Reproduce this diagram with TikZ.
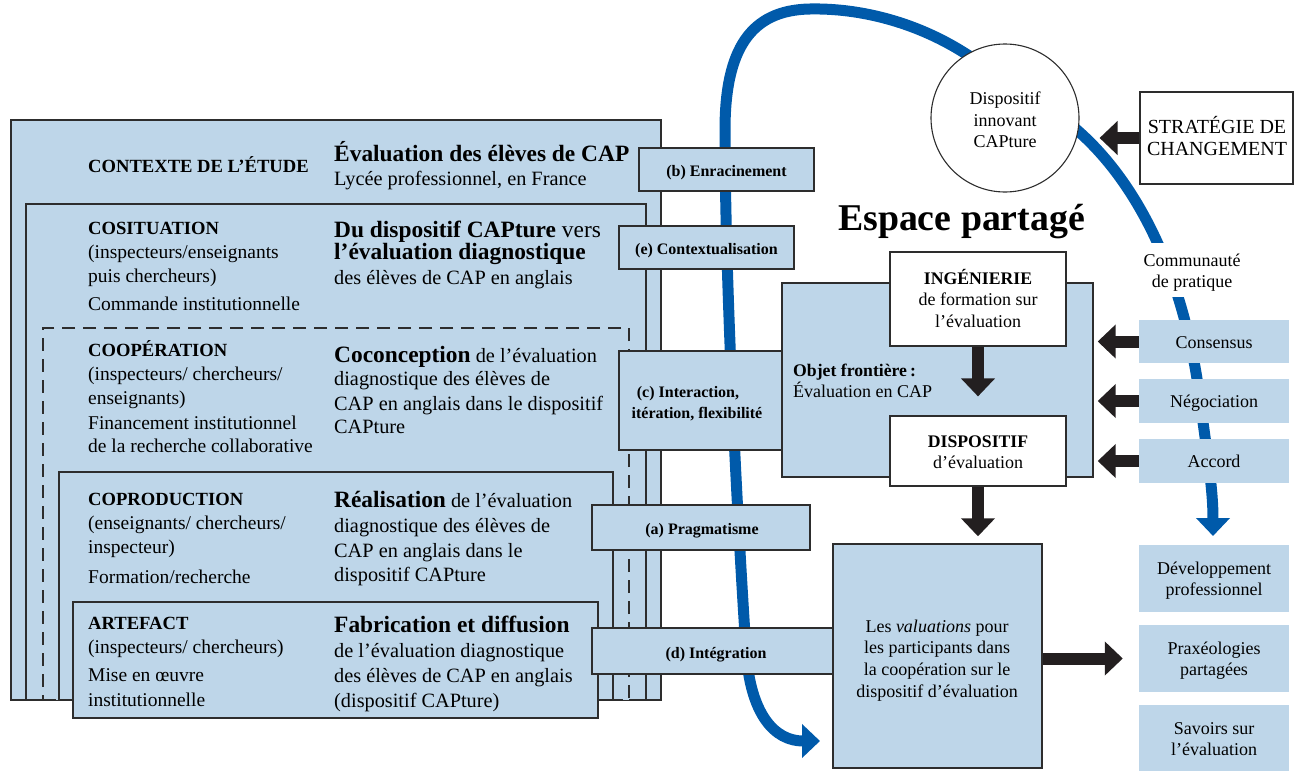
\documentclass[tikz,border=0pt]{standalone}
\usepackage{fontspec}
\setmainfont{Liberation Serif}
\usetikzlibrary{arrows.meta,fit}
\definecolor{lblue}{RGB}{190,214,233}
\definecolor{cblue}{RGB}{0,90,170}
\definecolor{darkarr}{RGB}{35,31,32}
\definecolor{edgecol}{RGB}{45,45,45}
\newcommand\fLab{\bfseries\fontsize{18.6}{22}\selectfont}
\newcommand\fBodyL{\fontsize{19.5}{23}\selectfont}
\newcommand\fTitle{\bfseries\fontsize{23.4}{27}\selectfont}
\newcommand\fBodyR{\fontsize{20.3}{24}\selectfont}
\newcommand\fMid{\bfseries\fontsize{16}{19}\selectfont}
\newcommand\fRt{\fontsize{18}{21}\selectfont}
\newcommand\fRtB{\bfseries\fontsize{17.7}{21}\selectfont}
\begin{document}
\begin{tikzpicture}[x=1pt,y=-1pt,
  every node/.style={inner sep=0pt},
  lbox/.style={draw=edgecol,line width=1.4pt,fill=lblue,inner sep=0pt},
  dbox/.style={draw=edgecol,line width=1.3pt,fill=lblue,inner sep=0pt,dash pattern=on 13pt off 8pt},
  wbox/.style={draw=edgecol,line width=1.2pt,fill=white,inner sep=0pt},
  fbox/.style={fill=lblue,inner sep=0pt},
  txt/.style={anchor=base west,inner sep=0pt},
  ctxt/.style={anchor=base,inner sep=0pt},
  curve/.style={draw=cblue,line width=11pt,-{Triangle[length=18pt,width=33pt]}},
  bigarrow/.style={draw=darkarr,line width=12pt,-{Triangle[length=18pt,width=33pt]}}]
\useasboundingbox (0,0) rectangle (1294,771);

% nested boxes
\node[lbox,fit={(11,120) (661,700)}] (b1) {};
\node[lbox,fit={(26,204) (646,700)}] (b2) {};
\node[dbox,fit={(43,328) (629,700)}] (b3) {};
\node[lbox,fit={(59,472) (613,700)}] (b4) {};
\node[lbox,fit={(73,602) (598,718)}] (b5) {};

% left column
\node[txt,font=\fLab] (l1) at (88,172) {CONTEXTE DE L’ÉTUDE};
\node[txt,font=\fLab] (l2) at (88,234) {COSITUATION};
\node[txt,font=\fBodyL] (l2a) at (88,258) {(inspecteurs/enseignants};
\node[txt,font=\fBodyL] (l2b) at (88,282) {puis chercheurs)};
\node[txt,font=\fBodyL] (l2c) at (88,310) {Commande institutionnelle};
\node[txt,font=\fLab] (l3) at (88,356) {COOPÉRATION};
\node[txt,font=\fBodyL] (l3a) at (88,380) {(inspecteurs/ chercheurs/};
\node[txt,font=\fBodyL] (l3b) at (88,404) {enseignants)};
\node[txt,font=\fBodyL] (l3c) at (88,429) {Financement institutionnel};
\node[txt,font=\fBodyL] (l3d) at (88,452) {de la recherche collaborative};
\node[txt,font=\fLab] (l4) at (88,505) {COPRODUCTION};
\node[txt,font=\fBodyL] (l4a) at (88,529) {(enseignants/ chercheurs/};
\node[txt,font=\fBodyL] (l4b) at (88,553) {inspecteur)};
\node[txt,font=\fBodyL] (l4c) at (88,583) {Formation/recherche};
\node[txt,font=\fLab] (l5) at (88,629) {ARTEFACT};
\node[txt,font=\fBodyL] (l5a) at (88,653) {(inspecteurs/ chercheurs)};
\node[txt,font=\fBodyL] (l5b) at (88,681) {Mise en œuvre};
\node[txt,font=\fBodyL] (l5c) at (88,706) {institutionnelle};

% right column
\node[txt,font=\fTitle] (r1) at (334,161) {Évaluation des élèves de CAP};
\node[txt,font=\fBodyR] (r1a) at (334,185) {Lycée professionnel, en France};
\node[txt,font=\fTitle] (r2) at (334,237) {Du dispositif CAPture \mdseries vers};
\node[txt,font=\fTitle] (r2a) at (334,259) {l’évaluation diagnostique};
\node[txt,font=\fBodyR] (r2b) at (334,284) {des élèves de CAP en anglais};
\node[txt] (r3) at (334,362) {{\fTitle Coconception}{\fBodyR\ de l’évaluation}};
\node[txt,font=\fBodyR] (r3a) at (334,385) {diagnostique des élèves de};
\node[txt,font=\fBodyR] (r3b) at (334,410) {CAP en anglais dans le dispositif};
\node[txt,font=\fBodyR] (r3c) at (334,433) {CAPture};
\node[txt] (r4) at (334,507) {{\fTitle Réalisation}{\fBodyR\ de l’évaluation}};
\node[txt,font=\fBodyR] (r4a) at (334,532) {diagnostique des élèves de};
\node[txt,font=\fBodyR] (r4b) at (334,557) {CAP en anglais dans le};
\node[txt,font=\fBodyR] (r4c) at (334,581) {dispositif CAPture};
\node[txt,font=\fTitle] (r5) at (334,632) {Fabrication et diffusion};
\node[txt,font=\fBodyR] (r5a) at (334,657) {de l’évaluation diagnostique};
\node[txt,font=\fBodyR] (r5b) at (334,682) {des élèves de CAP en anglais};
\node[txt,font=\fBodyR] (r5c) at (334,707) {(dispositif CAPture)};

% blue curves
\coordinate (cl0) at (995,72);
\coordinate (cl1) at (963,52);
\coordinate (clEnd) at (820,741);
\draw[curve] (cl0) -- (cl1) .. controls (915,22) and (860,8) .. (810,9)
  .. controls (750,10) and (725,50) .. (725,130)
  .. controls (725,300) and (740,560) .. (746,650)
  .. controls (750,715) and (775,741) .. (clEnd);
\coordinate (cr0) at (1047,104);
\coordinate (cr1) at (1077,130);
\coordinate (crEnd) at (1213,536);
\draw[curve] (cr0) -- (cr1) .. controls (1140,185) and (1185,280) .. (1200,400)
  .. controls (1208,460) and (1213,490) .. (crEnd);

% middle label boxes
\node[lbox,fit={(639,148) (814,191)}] (mb) {};
\node[ctxt,font=\fMid] (mbt) at (726.5,176) {(b) Enracinement};
\node[lbox,fit={(619,226) (794,269)}] (me) {};
\node[ctxt,font=\fMid] (met) at (706.5,254) {(e) Contextualisation};
\node[lbox,fit={(619,351) (782,450)}] (mc) {};
\node[ctxt,font=\fMid] (mct1) at (688,397) {(c) Interaction,};
\node[ctxt,font=\fMid] (mct2) at (697,418) {itération, flexibilité};
\node[lbox,fit={(592,505) (810,550)}] (ma) {};
\node[ctxt,font=\fMid] (mat) at (702,534) {(a) Pragmatisme};
\node[lbox,fit={(592,628) (833,674)}] (md) {};
\node[ctxt,font=\fMid] (mdt) at (716,658) {(d) Intégration};

% shared space
\node[ctxt,font=\bfseries\fontsize{37.8}{42}\selectfont] (esp) at (961.5,230) {Espace partagé};
\node[lbox,fit={(782,283) (1093,477)}] (obj) {};
\node[txt,font=\fRtB] (objt1) at (793,376) {Objet frontière\,:};
\node[txt,font=\fRt] (objt2) at (793,397) {Évaluation en CAP};
\node[wbox,fit={(890,252) (1066,346)}] (ing) {};
\node[ctxt,font=\fRtB] (ingt1) at (978,284) {INGÉNIERIE};
\node[ctxt,font=\fRt] (ingt2) at (978,305) {de formation sur};
\node[ctxt,font=\fRt] (ingt3) at (978,327) {l’évaluation};
\node[wbox,fit={(890,416) (1066,486)}] (disp) {};
\node[ctxt,font=\fRtB] (dispt1) at (978,447) {DISPOSITIF};
\node[ctxt,font=\fRt] (dispt2) at (978,468) {d’évaluation};
\node[lbox,fit={(833,544) (1042,768)}] (val) {};
\node[ctxt,font=\fRt] (valt1) at (937,632) {Les \textit{valuations} pour};
\node[ctxt,font=\fRt] (valt2) at (937,653) {les participants dans};
\node[ctxt,font=\fRt] (valt3) at (937,675) {la coopération sur le};
\node[ctxt,font=\fRt] (valt4) at (937,697) {dispositif d’évaluation};

% right column boxes
\node[fbox,fit={(1139,320) (1289,363)}] (cons) {};
\node[ctxt,font=\fRt] (const) at (1214,348) {Consensus};
\node[fbox,fit={(1139,379) (1289,423)}] (nego) {};
\node[ctxt,font=\fRt] (negot) at (1214,407) {Négociation};
\node[fbox,fit={(1139,439) (1289,483)}] (acc) {};
\node[ctxt,font=\fRt] (acct) at (1214,467) {Accord};
\node[fbox,fit={(1139,545) (1289,612)}] (dev) {};
\node[ctxt,font=\fRt] (devt1) at (1214,574) {Développement};
\node[ctxt,font=\fRt] (devt2) at (1214,595) {professionnel};
\node[fbox,fit={(1139,625) (1289,692)}] (prax) {};
\node[ctxt,font=\fRt] (praxt1) at (1214,654) {Praxéologies};
\node[ctxt,font=\fRt] (praxt2) at (1214,675) {partagées};
\node[fbox,fit={(1139,705) (1289,771)}] (sav) {};
\node[ctxt,font=\fRt] (savt1) at (1214,734) {Savoirs sur};
\node[ctxt,font=\fRt] (savt2) at (1214,755) {l’évaluation};

% strategy box and circle
\node[draw=edgecol,line width=1.1pt,fill=white,fit={(1140,92) (1293,184)}] (strat) {};
\node[ctxt,font=\fontsize{20}{24}\selectfont] (stratt1) at (1217,133) {STRATÉGIE DE};
\node[ctxt,font=\fontsize{20}{24}\selectfont] (stratt2) at (1217,155) {CHANGEMENT};
\node[circle,draw=edgecol,line width=1.1pt,fill=white,minimum size=148pt] (circ) at (1005,118) {};
\node[ctxt,font=\fRt] (circt1) at (1005,104) {Dispositif};
\node[ctxt,font=\fRt] (circt2) at (1005,126) {innovant};
\node[ctxt,font=\fRt] (circt3) at (1005,147) {CAPture};
\node[fill=white,fit={(1140,243) (1245,297)}] (commbg) {};
\node[ctxt,font=\fRt] (comm1) at (1192,266) {Communauté};
\node[ctxt,font=\fRt] (comm2) at (1192,287) {de pratique};

% black arrows
\draw[bigarrow,shorten >=20pt] (strat.west) -- (strat.west -| circ.east);
\draw[bigarrow,shorten >=4pt] (cons.west) -- (cons.west -| obj.east);
\draw[bigarrow,shorten >=4pt] (nego.west) -- (nego.west -| obj.east);
\draw[bigarrow,shorten >=4pt] (acc.west) -- (acc.west -| obj.east);
\draw[bigarrow,shorten >=19pt] (ing.south) -- (disp.north);
\draw[bigarrow,shorten >=7pt] (disp.south) -- (disp.south |- val.north);
\draw[bigarrow,shorten >=16pt] (val.east |- prax.west) -- (prax.west);
\end{tikzpicture}
\end{document}
